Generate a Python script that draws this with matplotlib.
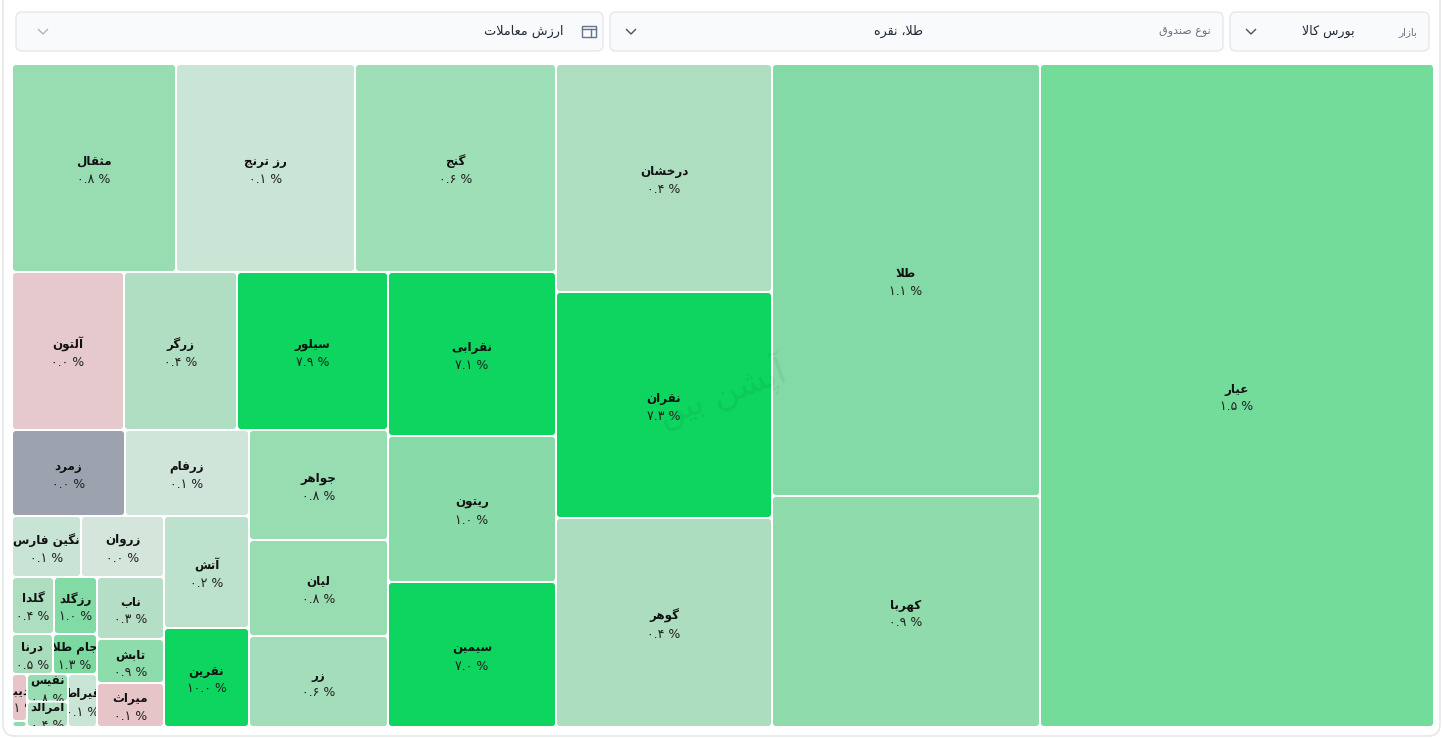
import matplotlib
matplotlib.use("Agg")
import matplotlib.pyplot as plt
from matplotlib.patches import FancyBboxPatch, Rectangle

plt.rcParams["font.family"] = ["DejaVu Sans"]

# funds: name, daily change (%), traded value, fill
fund_names = ["عیار", "طلا", "کهربا", "درخشان", "نقران", "گوهر", "مثقال", "رز ترنج", "گنج",
              "نقرابی", "ریتون", "سیمین", "آلتون", "زرگر", "سیلور", "جواهر", "لیان", "زر",
              "زمرد", "زرفام", "آتش", "نقرین", "نگین فارس", "زروان", "ناب", "تابش", "میراث",
              "گلدا", "رزگلد", "درنا", "جام طلا", "قیراط", "دیبا", "", "نفیس", "امرالد"]
change_pct = [1.5, 1.1, 0.9, 0.4, 7.3, 0.4, 0.8, 0.1, 0.6,
              7.1, 1.0, 7.0, 0.0, 0.4, 7.9, 0.8, 0.8, 0.6,
              0.0, 0.1, 0.2, 10.0, 0.1, 0.0, 0.3, 0.9, 0.1,
              0.4, 1.0, 0.5, 1.3, 0.1, 0.1, 0.9, 0.8, 0.4]
traded_value = [261222, 115776, 61908, 49248, 48816, 45144, 34112, 37232, 41808,
                27552, 24528, 24360, 17696, 17854, 23858, 15290, 13344, 12649,
                9718, 10664, 9520, 8415, 4209, 5063, 4154, 2948, 2948,
                2394, 2451, 1640, 1760, 1537, 705, 90, 1128, 1045]
tile_colors = ["#73DC9B", "#83DAA6", "#8FDBAB", "#AEDEC0", "#0DD55F", "#ABDDBE", "#98DDB2", "#C9E5D6", "#9FDFB8",
               "#0DD55F", "#88DBA8", "#0DD55F", "#E6C9CC", "#B0DEC2", "#0DD55F", "#98DCB1", "#98DCB1", "#A4DDBA",
               "#9CA3AF", "#CFE5D9", "#BCE1CD", "#0DD55F", "#C7E4D4", "#D4E6DC", "#B4DFC6", "#8EDBAB", "#E6C4C8",
               "#AEDEC0", "#82DAA5", "#A8DDBC", "#7CDAA1", "#C9E5D6", "#E6C4C8", "#8EDBAB", "#98DDB2", "#AEDEC0"]

values = dict(zip(fund_names, traded_value))
fills = dict(zip(fund_names, tile_colors))
changes = dict(zip(fund_names, change_pct))

# slice-and-dice tree: "x" splits side by side, "y" splits on top of each other
small_tail = ("x", [("y", ["دیبا", ""]), ("y", ["نفیس", "امرالد"]), "قیراط"])
group_85 = ("y", [("x", ["گلدا", "رزگلد"]), ("x", ["درنا", "جام طلا"]), small_tail])
group_152 = ("y", [("x", ["نگین فارس", "زروان"]), ("x", [group_85, ("y", ["ناب", "تابش", "میراث"])])])
group_237 = ("y", [("x", ["زمرد", "زرفام"]), ("x", [group_152, ("y", ["آتش", "نقرین"])])])
group_376 = ("y", [("x", ["آلتون", "زرگر", "سیلور"]), ("x", [group_237, ("y", ["جواهر", "لیان", "زر"])])])
group_544 = ("y", [("x", ["مثقال", "رز ترنج", "گنج"]), ("x", [group_376, ("y", ["نقرابی", "ریتون", "سیمین"])])])
tree = ("x", [group_544, ("y", ["درخشان", "نقران", "گوهر"]), ("y", ["طلا", "کهربا"]), "عیار"])

# matplotlib has no bidi or shaping, so letters go through presentation forms
# start codepoint of the forms: isolated, final, initial, medial
FORMS = {"ب": 0xFE8F, "پ": 0xFB56, "ت": 0xFE95, "ث": 0xFE99, "ج": 0xFE9D, "چ": 0xFB7A, "ح": 0xFEA1,
         "خ": 0xFEA5, "س": 0xFEB1, "ش": 0xFEB5, "ص": 0xFEB9, "ض": 0xFEBD, "ط": 0xFEC1, "ظ": 0xFEC5,
         "ع": 0xFEC9, "غ": 0xFECD, "ف": 0xFED1, "ق": 0xFED5, "ک": 0xFB8E, "گ": 0xFB92, "ل": 0xFEDD,
         "م": 0xFEE1, "ن": 0xFEE5, "ه": 0xFEE9, "ی": 0xFBFC}
# these only join to the letter before them
RIGHT_ONLY = {"ا": 0xFE8D, "آ": 0xFE81, "د": 0xFEA9, "ذ": 0xFEAB, "ر": 0xFEAD, "ز": 0xFEAF, "ژ": 0xFB8A, "و": 0xFEED}


def fa(text):
    out = []
    prev_joins = False
    i = 0
    while i < len(text):
        c = text[i]
        nxt = text[i + 1] if i + 1 < len(text) else ""
        if c == "ل" and nxt == "ا":
            out.append(chr(0xFEFC if prev_joins else 0xFEFB))
            prev_joins = False
            i += 2
            continue
        if c in FORMS:
            next_joins = nxt in FORMS or nxt in RIGHT_ONLY
            offset = {(False, False): 0, (True, False): 1, (False, True): 2, (True, True): 3}[(prev_joins, next_joins)]
            out.append(chr(FORMS[c] + offset))
            prev_joins = next_joins
        elif c in RIGHT_ONLY:
            out.append(chr(RIGHT_ONLY[c] + (1 if prev_joins else 0)))
            prev_joins = False
        else:
            out.append(c)
            prev_joins = False
        i += 1
    return "".join(reversed(out))


def fa_pct(v):
    return f"{v:.1f} %".translate(str.maketrans("0123456789", "۰۱۲۳۴۵۶۷۸۹"))


def node_value(node):
    if isinstance(node, str):
        return values[node]
    return sum(node_value(c) for c in node[1])


def layout(node, x, y, w, h, result):
    if isinstance(node, str):
        result.append((node, x, y, w, h))
        return
    total = node_value(node)
    for child in node[1]:
        share = node_value(child) / total
        if node[0] == "x":
            layout(child, x, y, w * share, h, result)
            x += w * share
        else:
            layout(child, x, y, w, h * share, result)
            y += h * share


fig = plt.figure(figsize=(14.43, 7.38), dpi=100, facecolor="white")
ax = fig.add_axes([0, 0, 1, 1])
ax.set_xlim(0, 1443)
ax.set_ylim(738, 0)
ax.axis("off")

# card behind everything
ax.add_patch(FancyBboxPatch((3, -20), 1437, 756, boxstyle="round,pad=0,rounding_size=12",
                            fc="white", ec="#E5E7EB", lw=1.2, zorder=1))

# filter bar
for x0, x1 in [(16, 603), (610, 1223), (1230, 1429)]:
    ax.add_patch(FancyBboxPatch((x0, 12), x1 - x0, 39, boxstyle="round,pad=0,rounding_size=6",
                                fc="#F8FAFC", ec="#E5E7EB", lw=1, zorder=2))


def chevron(cx, color):
    ax.plot([cx - 4.5, cx, cx + 4.5], [29.5, 34, 29.5], color=color, lw=1, zorder=3)


chevron(43, "#AEB4BE")
chevron(631, "#4B5563")
chevron(1251, "#4B5563")

ax.text(563, 31.5, fa("ارزش معاملات"), ha="right", va="center", fontsize=9.3, color="#1F2937", zorder=3)
ax.text(898, 31.5, fa("طلا، نقره"), ha="center", va="center", fontsize=9.1, color="#1F2937", zorder=3)
ax.text(1211, 32, fa("نوع صندوق"), ha="right", va="center", fontsize=8, color="#6B7280", zorder=3)
ax.text(1355, 31.5, fa("بورس کالا"), ha="right", va="center", fontsize=9.1, color="#1F2937", zorder=3)
ax.text(1417, 32, fa("بازار"), ha="right", va="center", fontsize=7.5, color="#6B7280", zorder=3)

# table icon next to the metric selector
ax.add_patch(Rectangle((582, 26), 14, 11, fc="none", ec="#64748B", lw=1, zorder=3))
ax.plot([582, 596], [29, 29], color="#64748B", lw=1, zorder=3)
ax.plot([591, 591], [29, 37], color="#64748B", lw=1, zorder=3)

# treemap
tiles = []
layout(tree, 12, 64, 1422, 663, tiles)
for name, x, y, w, h in tiles:
    ax.add_patch(FancyBboxPatch((x + 1, y + 1), w - 2, h - 2, boxstyle="round,pad=0,rounding_size=3",
                                fc=fills[name], ec="none", zorder=3))
    if not name:
        continue
    cx = x + w / 2
    cy = y + h / 2
    # agg only clips text to a box, so long labels get a plain rectangle
    box = Rectangle((x + 1, y + 1), w - 2, h - 2, transform=ax.transData)
    t1 = ax.text(cx, cy - 6.5, fa(name), ha="center", va="center", fontsize=8.6, fontweight="bold",
                 color="#111111", zorder=4, clip_on=True)
    t2 = ax.text(cx, cy + 11.5, fa_pct(changes[name]), ha="center", va="center", fontsize=9,
                 color="#222222", zorder=4, clip_on=True)
    t1.set_clip_path(box)
    t2.set_clip_path(box)

# watermark
ax.text(722, 392, fa("آپشن بین"), ha="center", va="center", fontsize=25, rotation=20,
        color="black", alpha=0.06, zorder=5)

fig.savefig("out.png", dpi=100)
